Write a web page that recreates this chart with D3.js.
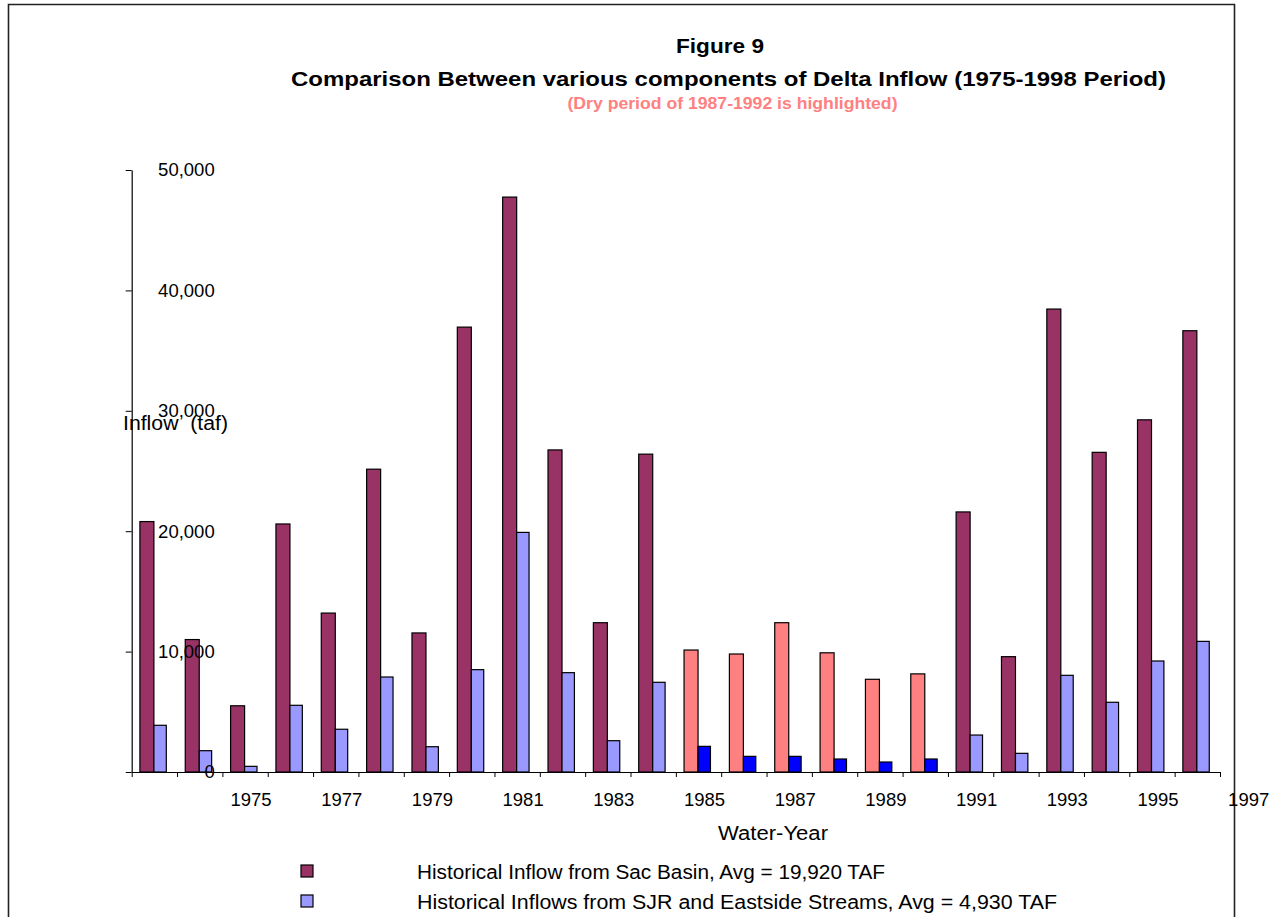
<!DOCTYPE html>
<html>
<head>
<meta charset="utf-8">
<script src="https://cdn.jsdelivr.net/npm/d3@7"></script>
<style>
  html, body { margin: 0; padding: 0; background: #fff; }
  svg { display: block; font-family: "Liberation Sans", Arial, sans-serif; }
</style>
</head>
<body>
<svg id="chart" width="1280" height="917"></svg>
<script>
// ---- Data ----
const years = [1975,1976,1977,1978,1979,1980,1981,1982,1983,1984,1985,1986,
               1987,1988,1989,1990,1991,1992,1993,1994,1995,1996,1997,1998];
const sacInflow = [20800,11000,5500,20600,13200,25150,11550,36950,47750,26750,12400,26400,
                   10130,9800,12400,9900,7700,8150,21600,9580,38450,26550,29250,36650];
const sjrInflow = [3880,1770,470,5540,3550,7890,2100,8500,19900,8250,2600,7450,
                   2130,1300,1300,1080,830,1080,3070,1550,8030,5790,9220,10850];
const dryStart = 1987, dryEnd = 1992;
const xTickLabels = ["1975","1977","1979","1981","1983","1985","1987","1989","1991","1993","1995","1997"];
const yTicks = [0,10000,20000,30000,40000,50000];
const legendLabels = ["Historical Inflow from Sac Basin, Avg = 19,920 TAF",
                      "Historical Inflows from SJR and Eastside Streams, Avg = 4,930 TAF"];
const colors = { sac: "#993366", sjr: "#9999FF", sacDry: "#FF8080", sjrDry: "#0000FF" };

// ---- Layout ----
const svg = d3.select("#chart");
const x0 = 131.7, x1 = 1220, yBottom = 772, yTop = 170;
const x = d3.scaleLinear().domain([0, years.length]).range([x0, x1]);
const y = d3.scaleLinear().domain([0, 50000]).range([yBottom, yTop]);
const isDry = yr => yr >= dryStart && yr <= dryEnd;

// Outer border (open at bottom)
svg.append("path")
  .attr("d", "M8.5,917 L8.5,4.5 L1234.5,4.5 L1234.5,917")
  .attr("fill", "none").attr("stroke", "#222").attr("stroke-width", 1.6);

// Titles
svg.append("text").attr("x", 720).attr("y", 53).attr("text-anchor", "middle")
  .attr("font-weight", "bold").attr("font-size", 21)
  .attr("textLength", 88).attr("lengthAdjust", "spacingAndGlyphs").text("Figure 9");
svg.append("text").attr("x", 728.5).attr("y", 86).attr("text-anchor", "middle")
  .attr("font-weight", "bold").attr("font-size", 21)
  .attr("textLength", 875).attr("lengthAdjust", "spacingAndGlyphs")
  .text("Comparison Between various components of Delta Inflow (1975-1998 Period)");
svg.append("text").attr("x", 732.5).attr("y", 108.5).attr("text-anchor", "middle")
  .attr("font-weight", "bold").attr("font-size", 17).attr("fill", "#FF8080")
  .attr("textLength", 330).attr("lengthAdjust", "spacingAndGlyphs")
  .text("(Dry period of 1987-1992 is highlighted)");

// Bars
const g = svg.append("g");
const off = 8.2, wSac = 14, wSjr = 12.4;
g.selectAll("rect.sac").data(years).join("rect").attr("class", "sac")
  .attr("x", (d, i) => x(i) + off)
  .attr("y", (d, i) => y(sacInflow[i]))
  .attr("width", wSac)
  .attr("height", (d, i) => y(0) - y(sacInflow[i]))
  .attr("fill", d => isDry(d) ? colors.sacDry : colors.sac)
  .attr("stroke", "#000").attr("stroke-width", 1.2);
g.selectAll("rect.sjr").data(years).join("rect").attr("class", "sjr")
  .attr("x", (d, i) => x(i) + off + wSac)
  .attr("y", (d, i) => y(sjrInflow[i]))
  .attr("width", wSjr)
  .attr("height", (d, i) => y(0) - y(sjrInflow[i]))
  .attr("fill", d => isDry(d) ? colors.sjrDry : colors.sjr)
  .attr("stroke", "#000").attr("stroke-width", 1.2);

// Y axis
const yAxis = svg.append("g").attr("transform", `translate(${x0},0)`)
  .call(d3.axisLeft(y).tickValues(yTicks).tickSize(6).tickSizeOuter(0)
        .tickFormat(d3.format(",")));
yAxis.select(".domain").attr("stroke", "#000").attr("stroke-width", 1.2);
yAxis.selectAll(".tick line").attr("stroke", "#000");
yAxis.selectAll(".tick text").attr("x", 83).attr("text-anchor", "end")
  .attr("font-size", 18.5).attr("font-family", "Liberation Sans, Arial, sans-serif").attr("fill", "#000");

// X axis
const xAxis = svg.append("g").attr("transform", `translate(0,${yBottom})`)
  .call(d3.axisBottom(x).tickValues(d3.range(0, years.length + 1)).tickSize(5)
        .tickSizeOuter(0).tickFormat(""));
xAxis.select(".domain").attr("stroke", "#000").attr("stroke-width", 1.2);
xAxis.selectAll(".tick line").attr("stroke", "#000");

svg.append("g").selectAll("text").data(xTickLabels).join("text")
  .attr("x", (d, k) => x(2 + 2 * k + 0.5) + 6)
  .attr("y", 806).attr("text-anchor", "middle").attr("font-size", 18.5)
  .text(d => d);

// Axis titles
svg.append("text").attr("x", 123).attr("y", 430).attr("font-size", 20)
  .attr("xml:space", "preserve").attr("textLength", 105).attr("lengthAdjust", "spacingAndGlyphs")
  .text("Inflow  (taf)");
svg.append("text").attr("x", 773).attr("y", 840).attr("text-anchor", "middle")
  .attr("font-size", 20).attr("textLength", 110).attr("lengthAdjust", "spacingAndGlyphs")
  .text("Water-Year");

// Legend
const leg = svg.append("g");
const legColors = [colors.sac, colors.sjr];
const legY = [871.5, 901.5];
const legLen = [468, 640];
leg.selectAll("rect").data(legendLabels).join("rect")
  .attr("x", 301).attr("y", (d, i) => legY[i] - 6.5).attr("width", 12).attr("height", 12)
  .attr("fill", (d, i) => legColors[i]).attr("stroke", "#000").attr("stroke-width", 1.2);
leg.selectAll("text").data(legendLabels).join("text")
  .attr("x", 417).attr("y", (d, i) => legY[i] + 7).attr("font-size", 20)
  .attr("textLength", (d, i) => legLen[i]).attr("lengthAdjust", "spacingAndGlyphs")
  .text(d => d);
</script>
</body>
</html>
